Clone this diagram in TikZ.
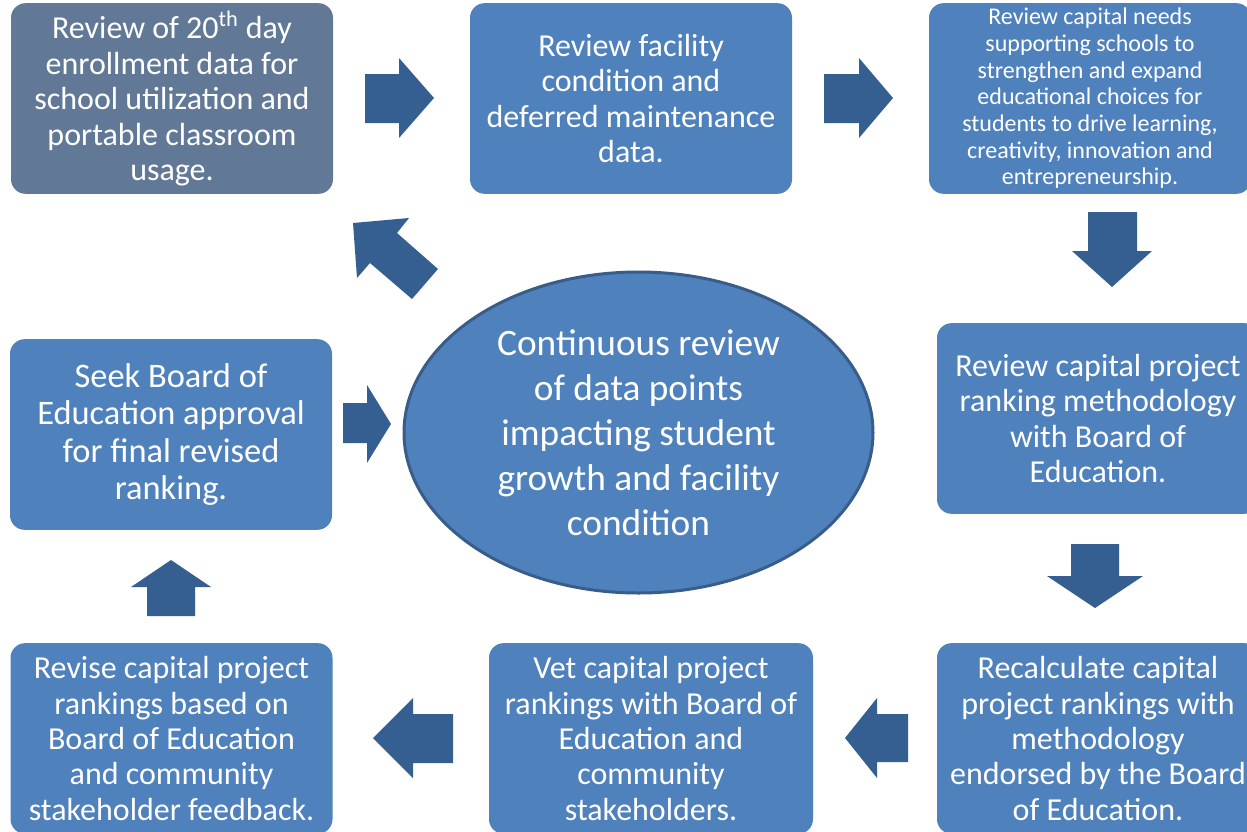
\documentclass[tikz,border=0pt]{standalone}
\usepackage{fontspec}
\setmainfont{Carlito}
\usetikzlibrary{shapes.geometric}
\definecolor{boxblue}{HTML}{4F81BD}
\definecolor{boxgray}{HTML}{617996}
\definecolor{arrowblue}{HTML}{365F91}
\definecolor{ellborder}{HTML}{385D8A}
\tikzset{
  stepbox/.style={rectangle, rounded corners=11pt, fill=boxblue, text=white, align=center,
    minimum width=241.5pt, minimum height=143pt, inner sep=0pt,
    font=\fontsize{24}{26.6}\selectfont},
  smallbox/.style={stepbox, font=\fontsize{18}{20}\selectfont},
  bigbox/.style={stepbox, font=\fontsize{25.8}{27.8}\selectfont},
  blockarrow/.style={fill=arrowblue, draw=none},
  hub/.style={ellipse, fill=boxblue, draw=ellborder, line width=2.25pt, text=white, align=center,
    minimum width=351.75pt, minimum height=240.75pt, inner sep=0pt,
    font=\fontsize{28}{33.75}\selectfont}
}
\begin{document}
\begin{tikzpicture}[x=0.75pt,y=-0.75pt]
\useasboundingbox (0,0) rectangle (1247,832);
\clip (0,0) rectangle (1247,832);
\fill[white] (0,0) rectangle (1247,832);

\node[stepbox, fill=boxgray] (b1) at (172,98.5) {Review of 20\textsuperscript{th} day\\enrollment data for\\school utilization and\\portable classroom\\usage.};
\node[stepbox] (b2) at (631,98.5) {Review facility\\condition and\\deferred maintenance\\data.};
\node[smallbox] (b3) at (1090,98.5) {Review capital needs\\supporting schools to\\strengthen and expand\\educational choices for\\students to drive learning,\\creativity, innovation and\\entrepreneurship.};
\node[stepbox] (b4) at (1098,418.5) {Review capital project\\ranking methodology\\with Board of\\Education.};
\node[stepbox] (b5) at (1098,738.5) {Recalculate capital\\project rankings with\\methodology\\endorsed by the Board\\of Education.};
\node[stepbox, minimum width=243pt] (b6) at (651,738.5) {Vet capital project\\rankings with Board of\\Education and\\community\\stakeholders.};
\node[stepbox] (b7) at (171.5,738.5) {Revise capital project\\rankings based on\\Board of Education\\and community\\stakeholder feedback.};
\node[bigbox] (b8) at (171,434.5) {Seek Board of\\Education approval\\for final revised\\ranking.};

\node[hub] (hub) at (638.5,432.5) {Continuous review\\of data points\\impacting student\\growth and facility\\condition};

% block arrows
\fill[blockarrow] (365,74) -- (399,74) -- (399,58) -- (434,98) -- (399,138) -- (399,123) -- (365,123) -- cycle;
\fill[blockarrow] (824,74) -- (859,74) -- (859,58) -- (893,98) -- (859,138) -- (859,123) -- (824,123) -- cycle;
\fill[blockarrow] (1088,212) -- (1137,212) -- (1137,251) -- (1152,251) -- (1112,287) -- (1072,251) -- (1088,251) -- cycle;
\fill[blockarrow] (1071,544) -- (1119,544) -- (1119,576) -- (1143,576) -- (1095,608) -- (1047,576) -- (1071,576) -- cycle;
\fill[blockarrow] (908,714) -- (877,714) -- (877,698) -- (845,738) -- (877,778) -- (877,762) -- (908,762) -- cycle;
\fill[blockarrow] (453,714) -- (413,714) -- (413,698) -- (373,738) -- (413,778) -- (413,763) -- (453,763) -- cycle;
\fill[blockarrow] (147,616) -- (147,587) -- (131,587) -- (171,560) -- (211,587) -- (195,587) -- (195,616) -- cycle;
\fill[blockarrow] (343,403) -- (367,403) -- (367,385) -- (391,424) -- (367,463) -- (367,443) -- (343,443) -- cycle;
\fill[blockarrow] (353,223) -- (409,218) -- (397,233) -- (438,269) -- (412,299) -- (370,263) -- (357,278) -- cycle;
\end{tikzpicture}
\end{document}
